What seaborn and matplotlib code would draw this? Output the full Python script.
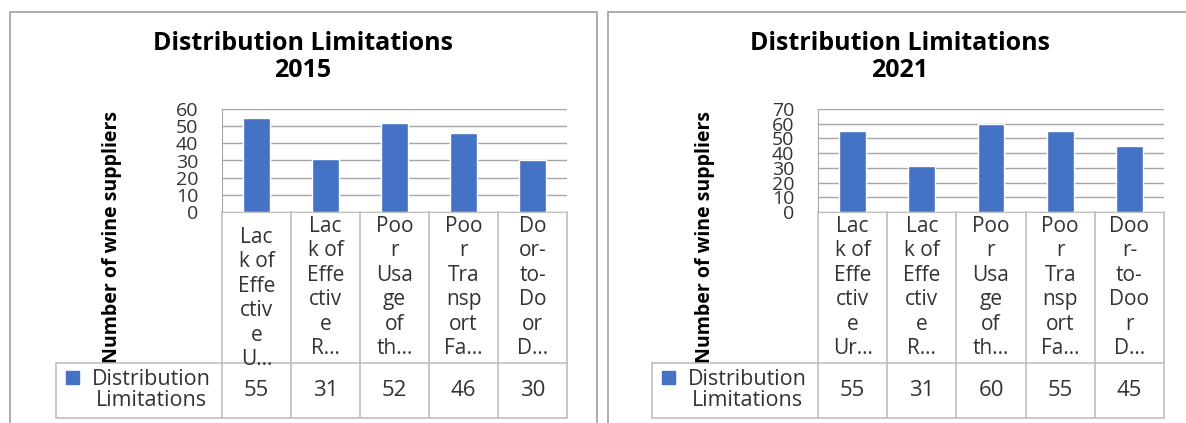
from __future__ import annotations
import pandas as pd
import seaborn as sns
import matplotlib.pyplot as plt
from matplotlib import font_manager
from matplotlib.patches import Rectangle
from matplotlib.transforms import blended_transform_factory

# Excel-style wrapped category labels, as they appear in the data table
LABELS_2015 = ["Lac\nk of\nEffe\nctiv\ne\nU...", "Lac\nk of\nEffe\nctiv\ne\nR...",
               "Poo\nr\nUsa\nge\nof\nth...", "Poo\nr\nTra\nnsp\nort\nFa...",
               "Do\nor-\nto-\nDo\nor\nD..."]
LABELS_2021 = ["Lac\nk of\nEffe\nctiv\ne\nUr...", "Lac\nk of\nEffe\nctiv\ne\nR...",
               "Poo\nr\nUsa\nge\nof\nth...", "Poo\nr\nTra\nnsp\nort\nFa...",
               "Doo\nr-\nto-\nDoo\nr\nD..."]
VALUES_2015 = [55, 31, 52, 46, 30]
VALUES_2021 = [55, 31, 60, 55, 45]
YMAX_2015 = 60
YMAX_2021 = 70
SERIES = "Distribution\nLimitations"
TITLE = "Distribution Limitations"
YLABEL = "Number of wine suppliers"

BLUE = "#4472C4"
GRID = "#a6a6a6"
TABLE = "#bfbfbf"
FRAME = "#a0a0a0"
TXT = "#333333"

W, H = 1186, 423

sns.set_style("white")
plt.rcParams["font.family"] = ["Open Sans", "DejaVu Sans"]


def has_font(name):
    try:
        font_manager.findfont(font_manager.FontProperties(family=name),
                              fallback_to_default=False)
        return True
    except Exception:
        return False


# the axis title in the original is a tall, condensed bold face
if has_font("Liberation Sans Narrow"):
    YLAB_FONT, YLAB_SIZE = ["Liberation Sans Narrow", "DejaVu Sans"], 17
else:
    YLAB_FONT, YLAB_SIZE = ["Open Sans", "DejaVu Sans"], 14

fig = plt.figure(figsize=(W / 100, H / 100), dpi=100)


def fx(px):
    return px / W


def fy(py):
    return 1 - py / H


# layout of each panel in pixels
PANELS = [
    dict(year="2015", labels=LABELS_2015, values=VALUES_2015, ymax=YMAX_2015,
         x0=222, x1=567, leg_x0=56, title_x=303, ylab_x=112, frame=(10, 597),
         first_drop=11),
    dict(year="2021", labels=LABELS_2021, values=VALUES_2021, ymax=YMAX_2021,
         x0=818, x1=1164, leg_x0=652, title_x=900, ylab_x=705, frame=(608, 1200),
         first_drop=0),
]
TOP, BOT, ROW1, ROW2 = 109, 212, 363, 418

for p in PANELS:
    # chart frame
    fig.patches.append(Rectangle((fx(p["frame"][0]), fy(430)),
                                 fx(p["frame"][1] - p["frame"][0]), fy(12) - fy(430),
                                 transform=fig.transFigure, fill=False,
                                 edgecolor=FRAME, lw=1.2))

    ax = fig.add_axes([fx(p["x0"]), fy(BOT), fx(p["x1"] - p["x0"]), fy(TOP) - fy(BOT)])
    df = pd.DataFrame({"cat": [f"c{i}" for i in range(len(p["values"]))],
                       "value": p["values"]})
    sns.barplot(data=df, x="cat", y="value", color=BLUE, saturation=1,
                width=0.39, ax=ax)
    n = len(p["values"])
    ax.set_xlim(-0.5, n - 0.5)
    ax.set_ylim(0, p["ymax"])
    ax.set_yticks(range(0, p["ymax"] + 1, 10))
    ax.tick_params(axis="y", length=0, pad=17, labelsize=14, labelcolor=TXT)
    ax.set_xticks([])
    ax.set_xlabel("")
    ax.set_ylabel("")
    ax.yaxis.grid(True, color=GRID, lw=1)
    ax.set_axisbelow(True)
    for s in ["top", "right"]:
        ax.spines[s].set_visible(False)
    ax.spines["left"].set_color(GRID)
    ax.spines["bottom"].set_color(TABLE)
    ax.patch.set_alpha(0)

    # data table below the plot, in axes fractions
    ph = BOT - TOP
    pw = p["x1"] - p["x0"]
    r1 = -(ROW1 - BOT) / ph
    r2 = -(ROW2 - BOT) / ph
    lx = -(p["x0"] - p["leg_x0"]) / pw
    kw = dict(transform=ax.transAxes, clip_on=False, color=TABLE, lw=1.2)
    for k in range(n + 1):
        ax.plot([k / n, k / n], [0, r2], **kw)
    ax.plot([lx, 1], [r1, r1], **kw)
    ax.plot([lx, 1], [r2, r2], **kw)
    ax.plot([lx, lx], [r1, r2], **kw)

    bt = blended_transform_factory(ax.transData, ax.transAxes)
    for i, (lab, val) in enumerate(zip(p["labels"], p["values"])):
        drop = p["first_drop"] if i == 0 else 0
        yc = -((BOT + ROW1) / 2 + drop - BOT) / ph
        ax.text(i, yc, lab, transform=bt, ha="center", va="center",
                multialignment="center", fontsize=15, color=TXT,
                linespacing=1.22)
        ax.text(i, (r1 + r2) / 2, str(val), transform=bt, ha="center",
                va="center", fontsize=16, color=TXT)

    # legend key and series name in the table
    fig.patches.append(Rectangle((fx(p["leg_x0"] + 10), fy(384)), fx(13), fy(371) - fy(384),
                                 transform=fig.transFigure, color=BLUE))
    fig.text(fx(p["leg_x0"] + 95), fy(390), SERIES, ha="center", va="center",
             multialignment="center", fontsize=15.5, color=TXT, linespacing=1.05)

    fig.text(fx(p["title_x"]), fy(57), f"{TITLE}\n{p['year']}", ha="center",
             va="center", fontsize=18, fontweight="bold", color="black",
             linespacing=1.1)
    fig.text(fx(p["ylab_x"]), fy(237), YLABEL, rotation=90, ha="center",
             va="center", fontsize=YLAB_SIZE, fontweight="bold", color="black",
             family=YLAB_FONT)

fig.savefig("out.png", dpi=100)
